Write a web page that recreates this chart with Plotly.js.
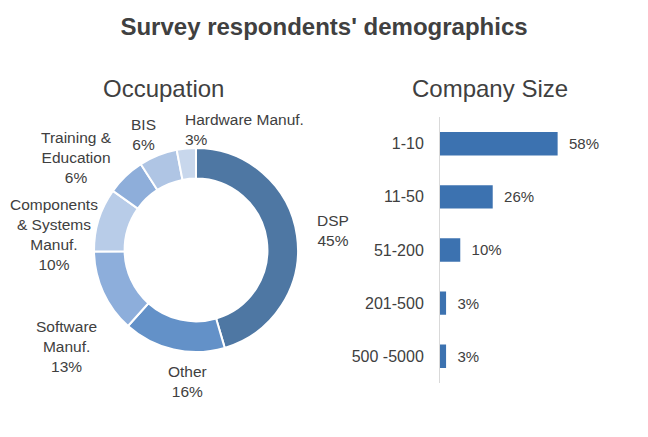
<!DOCTYPE html>
<html>
<head>
<meta charset="utf-8">
<script src="https://cdn.plot.ly/plotly-3.0.1.min.js"></script>
<style>
  html, body { margin: 0; padding: 0; background: #fff; }
  #chart { width: 648px; height: 437px; }
</style>
</head>
<body>
<div id="chart"></div>
<script>
// Occupation (donut)
var occLabels = ['DSP', 'Other', 'Software<br>Manuf.', 'Components<br>& Systems<br>Manuf.',
                 'Training &<br>Education', 'BIS', 'Hardware Manuf.'];
var occValues = [45, 16, 13, 10, 6, 6, 3];
var occColors = ['#4e77a3', '#6391c8', '#8daedb', '#b8cce8', '#8eaeda', '#afc5e4', '#c8d7ec'];

// Company size (bars)
var sizeLabels = ['1-10', '11-50', '51-200', '201-500', '500 -5000'];
var sizeValues = [58, 26, 10, 3, 3];

var textColor = '#404040';
var W = 648, H = 437;

// where each donut label sits (pixels), like the excel layout
var labelPos = [[333, 230, 'center'], [187, 381, 'center'], [66, 346, 'center'],
                [54, 234, 'center'], [76, 158, 'center'], [143, 134, 'center'],
                [183, 129, 'left']];

var donut = {
    type: 'pie',
    labels: occLabels,
    values: occValues,
    hole: 0.7,
    sort: false,
    direction: 'clockwise',
    rotation: 0,
    marker: { colors: occColors, line: { color: '#fff', width: 2 } },
    textinfo: 'none',
    showlegend: false,
    domain: { x: [94 / W, 298 / W], y: [1 - 352 / H, 1 - 148 / H] }
};

var bars = {
    type: 'bar',
    orientation: 'h',
    y: sizeLabels,
    x: sizeValues,
    marker: { color: '#3c72b0' },
    text: sizeValues.map(function (v) { return '\u00a0\u00a0' + v + '%'; }),
    textposition: 'outside',
    textfont: { size: 15, color: textColor },
    cliponaxis: false,
    showlegend: false
};

var annotations = [
    { text: 'Occupation', x: 163 / W, y: 1 - 88 / H, xref: 'paper', yref: 'paper',
      showarrow: false, font: { size: 24, color: textColor }, xanchor: 'center', yanchor: 'middle' },
    { text: 'Company Size', x: 490 / W, y: 1 - 88 / H, xref: 'paper', yref: 'paper',
      showarrow: false, font: { size: 24, color: textColor }, xanchor: 'center', yanchor: 'middle' }
];
occLabels.forEach(function (lab, i) {
    var p = labelPos[i];
    annotations.push({
        text: lab + '<br>' + occValues[i] + '%',
        x: p[0] / W, y: 1 - p[1] / H, xref: 'paper', yref: 'paper',
        showarrow: false, xanchor: p[2], yanchor: 'middle', align: p[2],
        font: { size: 15.5, color: textColor }
    });
});

var layout = {
    width: W,
    height: H,
    margin: { l: 0, r: 0, t: 0, b: 0 },
    paper_bgcolor: '#fff',
    plot_bgcolor: '#fff',
    font: { family: 'Liberation Sans, Arial, sans-serif', color: textColor, size: 14 },
    title: {
        text: "<b>Survey respondents' demographics</b>",
        font: { size: 24, color: textColor },
        x: 0.5, xanchor: 'center',
        y: 1 - 27 / H, yanchor: 'middle'
    },
    bargap: 0.56,
    xaxis: {
        domain: [0.679, 0.992],
        range: [0, 100],
        visible: false,
        fixedrange: true
    },
    yaxis: {
        domain: [0.124, 0.732],
        autorange: 'reversed',
        showline: true,
        linecolor: '#d9d9d9',
        linewidth: 1,
        showgrid: false,
        zeroline: false,
        ticks: 'outside',
        ticklen: 12,
        tickcolor: 'rgba(0,0,0,0)',
        tickfont: { size: 16, color: textColor }
    },
    annotations: annotations
};

Plotly.newPlot('chart', [donut, bars], layout, { displayModeBar: false, staticPlot: true });
</script>
</body>
</html>
